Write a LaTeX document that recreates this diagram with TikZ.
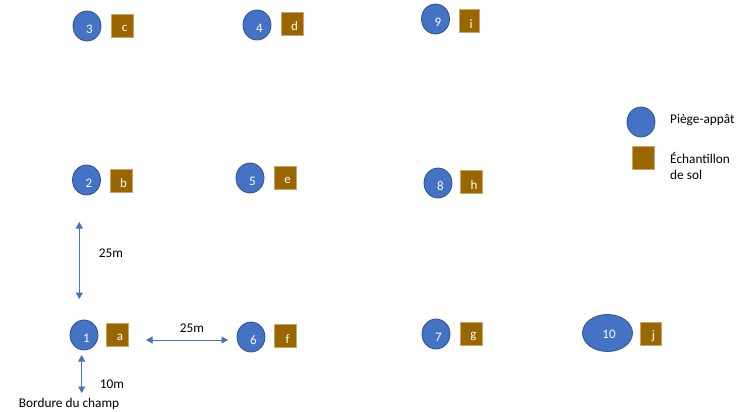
\documentclass[tikz,border=0pt]{standalone}
\usepackage{fontspec}
\setmainfont{Carlito}
\usetikzlibrary{shapes.geometric,arrows.meta}
\definecolor{trapblue}{HTML}{4472C4}
\definecolor{trapedge}{HTML}{2F528F}
\definecolor{soilbrown}{HTML}{996600}
\definecolor{soiledge}{HTML}{C8A56A}
\definecolor{arrowblue}{HTML}{4472C4}
\tikzset{
  trap/.style={ellipse, fill=trapblue, draw=trapedge, line width=0.8pt,
    minimum width=28pt, minimum height=30pt, inner sep=0pt},
  soil/.style={rectangle, fill=soilbrown, draw=soiledge, line width=0.6pt,
    minimum width=22pt, minimum height=23pt, inner sep=0pt},
  inlbl/.style={text=white, font=\fontsize{13}{15}\selectfont, xshift=2.5pt, yshift=-3pt},
  txt/.style={font=\fontsize{13.3}{15}\selectfont, text=black, inner sep=0pt},
  dim/.style={draw=arrowblue, line width=0.8pt,
    {Triangle[width=7pt,length=6.5pt]}-{Triangle[width=7pt,length=6.5pt]}}
}
\begin{document}
\begin{tikzpicture}[x=1pt,y=-1pt]
\useasboundingbox (0,0) rectangle (740,412);
% traps
\node[trap] (t1) at (84,335) {}; \node[inlbl] (l1) at (t1) {1};
\node[trap] (t2) at (86.5,180) {}; \node[inlbl] (l2) at (t2) {2};
\node[trap] (t3) at (87,26) {}; \node[inlbl] (l3) at (t3) {3};
\node[trap] (t4) at (257,25) {}; \node[inlbl] (l4) at (t4) {4};
\node[trap] (t5) at (250,178) {}; \node[inlbl] (l5) at (t5) {5};
\node[trap] (t6) at (251,337) {}; \node[inlbl] (l6) at (t6) {6};
\node[trap] (t7) at (436,334) {}; \node[inlbl] (l7) at (t7) {7};
\node[trap] (t8) at (438,183) {}; \node[inlbl] (l8) at (t8) {8};
\node[trap] (t9) at (435.5,19) {}; \node[inlbl] (l9) at (t9) {9};
\node[trap, minimum width=50pt, minimum height=37pt] (t10) at (607.5,333) {};
\node[inlbl, xshift=-1pt, yshift=2pt] (l10) at (t10) {10};
% soil samples
\node[soil] (sa) at (117.5,334.5) {}; \node[inlbl] (la) at (sa) {a};
\node[soil] (sb) at (121,180.5) {}; \node[inlbl] (lb) at (sb) {b};
\node[soil] (sc) at (122,25.5) {}; \node[inlbl] (lc) at (sc) {c};
\node[soil] (sd) at (292,23.5) {}; \node[inlbl] (ld) at (sd) {d};
\node[soil] (se) at (285,177.5) {}; \node[inlbl] (le) at (se) {e};
\node[soil] (sf) at (285,336) {}; \node[inlbl] (lf) at (sf) {f};
\node[soil] (sg) at (471,333.5) {}; \node[inlbl] (lg) at (sg) {g};
\node[soil] (sh) at (471.5,181.5) {}; \node[inlbl] (lh) at (sh) {h};
\node[soil, minimum width=20pt] (si) at (469.5,21) {}; \node[inlbl, xshift=-1pt] (li) at (si) {i};
\node[soil, minimum width=21pt] (sj) at (651,333.5) {}; \node[inlbl] (lj) at (sj) {j};
% dimension arrows
\coordinate (v1) at (79.3,222);
\coordinate (v2) at (79.3,299);
\draw[dim] (v1) -- (v2);
\node[txt] (d1) at (111,253) {25m};
\coordinate (h1) at (146,340);
\coordinate (h2) at (228,340);
\draw[dim] (h1) -- (h2);
\node[txt] (d2) at (192,328) {25m};
\coordinate (b1) at (81.7,355);
\coordinate (b2) at (81.7,393);
\draw[dim] (b1) -- (b2);
\node[txt] (d3) at (112,384) {10m};
\node[txt] (border) at (69,404) {Bordure du champ};
% legend
\node[trap] (legtrap) at (641,122) {};
\node[soil] (legsoil) at (643.5,157.5) {};
\node[txt, anchor=west] (legt1) at (670,120) {Piège-appât};
\node[txt, anchor=west] (legt2) at (670,158) {Échantillon};
\node[txt, anchor=west] (legt3) at (670,175) {de sol};
\end{tikzpicture}
\end{document}
